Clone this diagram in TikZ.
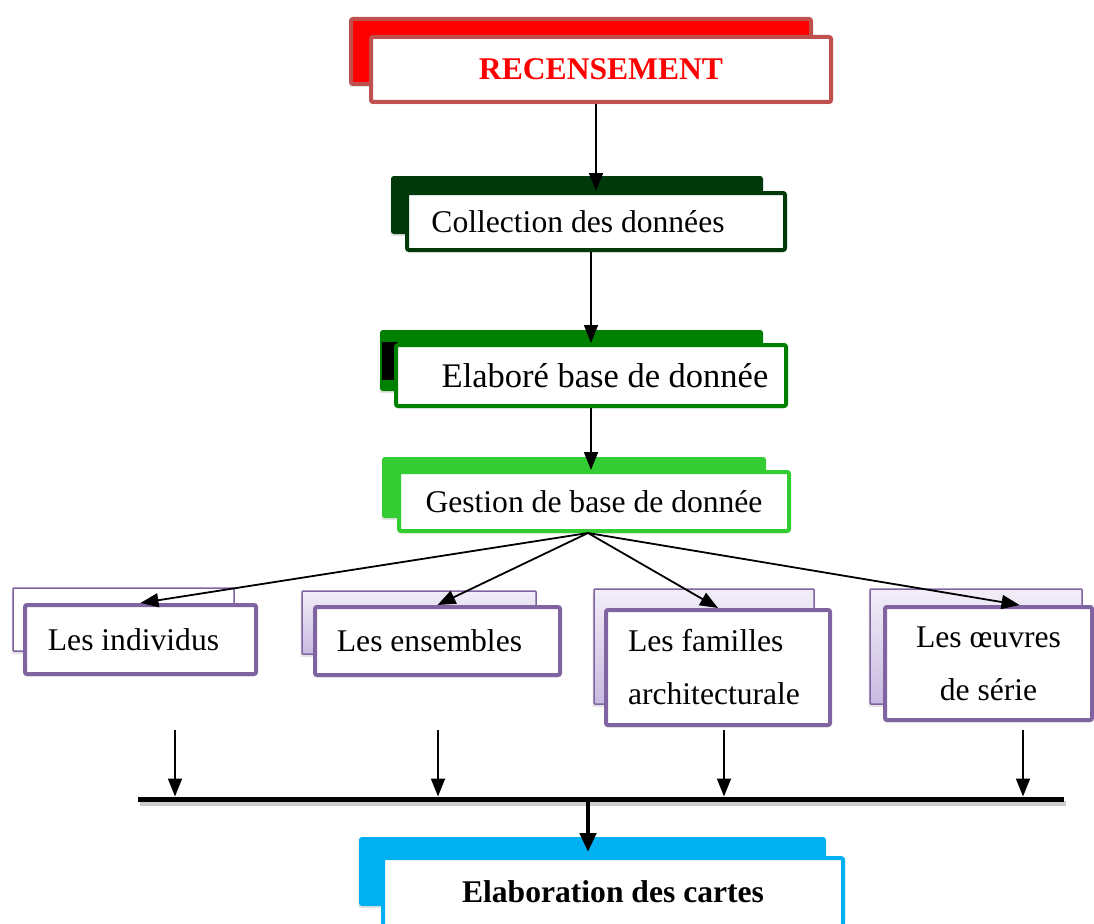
\documentclass[tikz,border=0pt]{standalone}
\usepackage{fontspec}
\setmainfont{Liberation Serif}
\usepackage{tikz}
\usetikzlibrary{arrows.meta,shadows}

\definecolor{RecRed}{RGB}{255,0,0}
\definecolor{RecEdge}{RGB}{192,80,77}
\definecolor{DeepGreen}{RGB}{0,58,10}
\definecolor{MidGreen}{RGB}{0,128,0}
\definecolor{LimeGreen}{RGB}{51,204,51}
\definecolor{Purp}{RGB}{128,100,162}
\definecolor{LavTop}{RGB}{242,238,248}
\definecolor{LavBot}{RGB}{200,186,224}
\definecolor{Cyan}{RGB}{0,176,240}

\begin{document}
\begin{tikzpicture}[
x=1pt, y=-1pt,
font=\fontsize{31.6}{38}\selectfont,
backbox/.style={draw=#1, fill=#1, line width=2pt, rounded corners=2pt, inner sep=0pt, drop shadow={shadow xshift=-1.5pt, shadow yshift=-3pt, opacity=0.22}},
frontbox/.style={draw=#1, fill=white, line width=4pt, rounded corners=2pt, inner sep=0pt, drop shadow={shadow xshift=-1pt, shadow yshift=-2.5pt, opacity=0.18}},
lavbox/.style={draw=Purp, top color=LavTop, bottom color=LavBot, line width=1.5pt, rounded corners=1pt, inner sep=0pt, drop shadow={shadow xshift=-1.5pt, shadow yshift=-3pt, opacity=0.22}},
twoline/.style={font=\fontsize{31.6}{53}\selectfont},
arrow/.style={-{Triangle[length=18pt,width=14pt]}, line width=1.8pt},
bigarrow/.style={-{Triangle[length=19pt,width=16pt]}, line width=4.5pt}
]
\useasboundingbox (0,0) rectangle (1094,923);

% top chain
\node[backbox=RecRed, draw=RecEdge, line width=4pt, minimum width=460pt, minimum height=65pt] (rec-back) at (581,51.5) {};
\node[frontbox=RecEdge, minimum width=460pt, minimum height=65pt, text=RecRed, font=\fontsize{31.6}{38}\selectfont\bfseries] (rec) at (601,69.5) {RECENSEMENT};

\node[backbox=DeepGreen, minimum width=370pt, minimum height=56pt] (coll-back) at (577,205) {};
\node[frontbox=DeepGreen, minimum width=378pt, minimum height=57pt] (coll) at (596,221.5) {Collection des données\hspace*{36pt}};

\node[backbox=MidGreen, minimum width=381pt, minimum height=59pt] (elab-back) at (571.5,360.5) {};
\node[fill=black, inner sep=0pt, minimum width=16pt, minimum height=38pt] (elab-blk) at (390,361) {};
\node[frontbox=MidGreen, minimum width=390pt, minimum height=61pt, font=\fontsize{34.5}{40}\selectfont] (elab) at (591,375.5) {\hspace*{28pt}Elaboré base de donnée};

\node[backbox=LimeGreen, minimum width=382pt, minimum height=59pt] (gest-back) at (574,487.5) {};
\node[frontbox=LimeGreen, minimum width=390pt, minimum height=59pt] (gest) at (594,501.5) {Gestion de base de donnée};

% categories
\node[lavbox, top color=white, bottom color=white, minimum width=221pt, minimum height=63pt] (indiv-back) at (123.5,619.5) {};
\node[frontbox=Purp, minimum width=231pt, minimum height=69pt] (indiv) at (140.5,639.5) {Les individus\hspace*{14pt}};

\node[lavbox, minimum width=234pt, minimum height=63pt] (ens-back) at (419,622.5) {};
\node[frontbox=Purp, minimum width=245pt, minimum height=68pt] (ens) at (437.5,641) {Les ensembles\hspace*{16pt}};

\node[lavbox, minimum width=220pt, minimum height=115pt] (fam-back) at (704,646.5) {};
\node[frontbox=Purp, twoline, align=left, minimum width=224pt, minimum height=115pt] (fam) at (718,667.5) {Les familles\\architecturale\hspace*{8pt}};

\node[lavbox, minimum width=212pt, minimum height=115pt] (oeuv-back) at (976,646.5) {};
\node[frontbox=Purp, twoline, align=center, minimum width=207pt, minimum height=113pt] (oeuv) at (988.5,663.5) {Les œuvres\\de série};

% result
\node[backbox=Cyan, minimum width=465pt, minimum height=67pt] (carte-back) at (592.5,871.5) {};
\node[frontbox=Cyan, minimum width=460pt, minimum height=68pt, font=\fontsize{31.6}{38}\selectfont\bfseries] (carte) at (613,892) {Elaboration des cartes};

% arrows
\draw[arrow] (coll.north |- rec.south) -- (coll.north);
\draw[arrow] (elab.north |- coll.south) -- (elab.north);
\draw[arrow] (elab.south) -- (elab.south |- gest.north);

\coordinate (fan) at (588,533);
\draw[arrow] (fan) -- (indiv.north);
\draw[arrow] (fan) -- (ens.north);
\draw[arrow] (fan) -- (fam.north);
\draw[arrow] (fan) -- ([xshift=31pt]oeuv.north);

% collecting bar
\coordinate (bar-l) at (138,799);
\coordinate (bar-r) at (1064,799);
\coordinate (bar-m) at (588,799);
\draw[line width=5pt, black, opacity=0.2] ([shift={(2,4)}]bar-l) -- ([shift={(2,4)}]bar-r);
\draw[line width=5pt] (bar-l) -- (bar-r);

\foreach \x [count=\i] in {175,438,724,1023} {
  \coordinate (drop-\i) at (\x,730);
  \draw[arrow, shorten >=2.5pt] (drop-\i) -- (drop-\i |- bar-l);
}
\draw[bigarrow, shorten >=4pt] (bar-m) -- (bar-m |- carte.north);
\end{tikzpicture}
\end{document}
